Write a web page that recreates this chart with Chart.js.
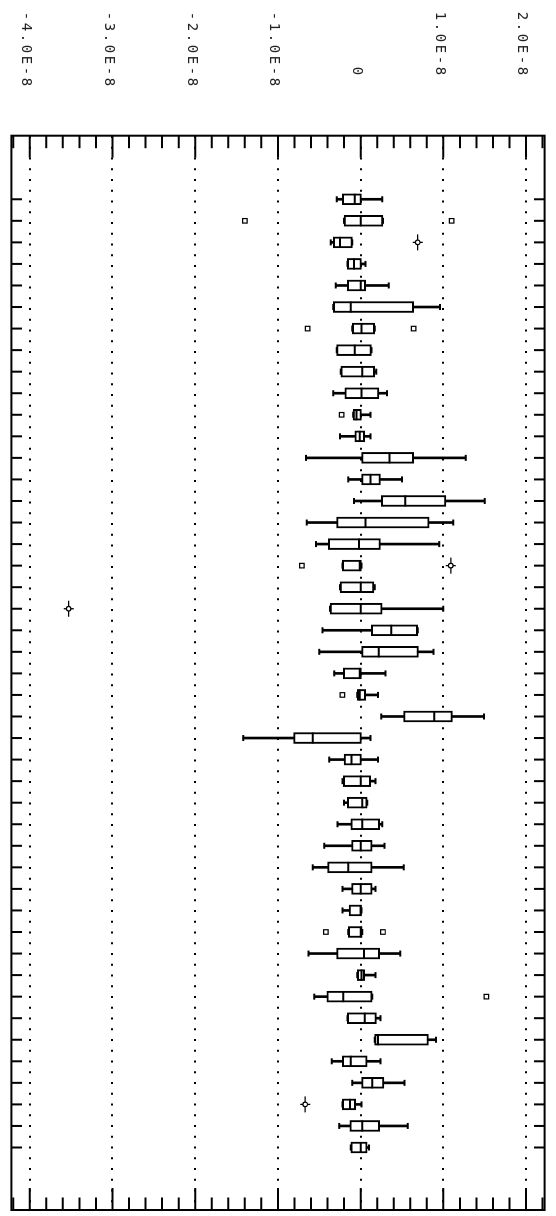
<!DOCTYPE html>
<html>
<head>
<meta charset="utf-8">
<script src="https://cdn.jsdelivr.net/npm/chart.js@4.4.1/dist/chart.umd.min.js"></script>
<style>
  html, body { margin: 0; padding: 0; background: #fff; overflow: hidden; }
  body { width: 556px; height: 1216px; position: relative; }
  /* chart is laid out landscape, then turned a quarter clockwise like the plotter page */
  #wrap { position: absolute; left: 0; top: 0; width: 1216px; height: 556px;
          transform-origin: 0 0; transform: translate(556px, 0) rotate(90deg); }
  #box-chart { display: block; }
</style>
</head>
<body>
<div id="wrap"><canvas id="box-chart" width="1216" height="556"></canvas></div>
<script>
// Values are in units of 1E-8
const positions = [1, 2, 3, 4, 5, 6, 7, 8, 9, 10, 11, 12, 13, 14, 15, 16, 17, 18, 19, 20, 21, 22, 23,
  24, 25, 26, 27, 28, 29, 30, 31, 32, 33, 34, 35, 36, 37, 38, 39, 40, 41, 42, 43, 44, 45];

const whiskerLow = [-0.29, -0.20, -0.36, -0.16, -0.30, -0.33, -0.10, -0.29, -0.24, -0.33, -0.09, -0.25,
  -0.66, -0.15, -0.08, -0.65, -0.54, -0.22, -0.25, -0.37, -0.46, -0.50, -0.32, -0.04, 0.25, -1.42,
  -0.38, -0.22, -0.20, -0.28, -0.44, -0.58, -0.22, -0.22, -0.15, -0.63, -0.04, -0.56, -0.16, 0.17,
  -0.35, -0.10, -0.22, -0.26, -0.12];
const boxLow = [-0.22, -0.20, -0.33, -0.16, -0.16, -0.33, -0.10, -0.29, -0.24, -0.19, -0.09, -0.07,
  0.00, 0.00, 0.25, -0.29, -0.39, -0.22, -0.25, -0.37, 0.13, 0.00, -0.21, -0.04, 0.52, -0.81,
  -0.20, -0.21, -0.16, -0.12, -0.11, -0.40, -0.11, -0.14, -0.15, -0.29, -0.04, -0.41, -0.16, 0.17,
  -0.22, 0.00, -0.22, -0.13, -0.12];
const medians = [-0.07, 0.00, -0.25, -0.08, 0.00, -0.12, 0.01, -0.07, 0.02, 0.01, -0.05, -0.01,
  0.35, 0.12, 0.54, 0.06, -0.02, -0.01, 0.00, 0.00, 0.37, 0.22, -0.01, -0.01, 0.89, -0.58,
  -0.11, 0.00, 0.02, 0.02, 0.00, -0.15, 0.00, 0.00, 0.00, 0.04, 0.01, -0.21, 0.05, 0.21,
  -0.12, 0.14, -0.13, 0.02, 0.00];
const boxHigh = [0.01, 0.27, -0.10, 0.01, 0.06, 0.64, 0.17, 0.13, 0.17, 0.22, 0.01, 0.05,
  0.64, 0.24, 1.03, 0.83, 0.24, 0.01, 0.16, 0.26, 0.69, 0.70, 0.01, 0.06, 1.11, 0.01,
  0.01, 0.12, 0.08, 0.23, 0.14, 0.14, 0.14, 0.01, 0.02, 0.23, 0.05, 0.14, 0.19, 0.82,
  0.08, 0.28, -0.06, 0.23, 0.08];
const whiskerHigh = [0.26, 0.27, -0.10, 0.06, 0.34, 0.96, 0.17, 0.13, 0.19, 0.32, 0.12, 0.12,
  1.27, 0.50, 1.50, 1.12, 0.95, 0.01, 0.17, 1.00, 0.69, 0.88, 0.30, 0.21, 1.49, 0.12,
  0.21, 0.18, 0.08, 0.26, 0.29, 0.52, 0.18, 0.01, 0.02, 0.48, 0.18, 0.14, 0.24, 0.91,
  0.24, 0.53, 0.01, 0.57, 0.10];

// outside values (small squares) and far-out values (crosses)
const outlierPos = [2, 2, 7, 7, 11, 18, 24, 35, 35, 38];
const outlierVals = [-1.40, 1.10, -0.64, 0.64, -0.23, -0.71, -0.22, -0.42, 0.27, 1.52];
const extremePos = [3, 18, 20, 43];
const extremeVals = [0.69, 1.09, -3.53, -0.67];

const valueTicks = [-4, -3, -2, -1, 0, 1, 2];

function toBars(lo, hi) {
  return positions.map((p, i) => ({ x: p, y: [lo[i], hi[i]] }));
}

function toPoints(xs, ys) {
  return xs.map((x, i) => ({ x: x, y: ys[i] }));
}

function pointSet(data, style, radius, order, extra) {
  return Object.assign({
    type: 'scatter',
    data: data,
    pointStyle: style,
    radius: radius,
    borderColor: '#000',
    backgroundColor: '#fff',
    borderWidth: 2,
    order: order
  }, extra || {});
}

/**
 * Frame with inward ticks on all four sides
 */
const frameTicks = {
  id: 'frameTicks',
  afterDatasetsDraw(chart) {
    const { ctx, chartArea: a, scales: { x, y } } = chart;
    ctx.save();
    ctx.strokeStyle = '#000';
    ctx.lineWidth = 2;
    ctx.beginPath();
    // minor ticks every 0.2, major every 1.0
    for (let k = -25; k <= 15; k++) {
      const py = y.getPixelForValue(k / 5);
      if (py < a.top || py > a.bottom) continue;
      const len = k % 5 === 0 ? 22 : 12.5;
      ctx.moveTo(a.left, py);
      ctx.lineTo(a.left + len, py);
      ctx.moveTo(a.right, py);
      ctx.lineTo(a.right - len, py);
    }
    positions.forEach(p => {
      const px = x.getPixelForValue(p);
      ctx.moveTo(px, a.top);
      ctx.lineTo(px, a.top + 10.5);
      ctx.moveTo(px, a.bottom);
      ctx.lineTo(px, a.bottom - 10.5);
    });
    ctx.stroke();
    ctx.strokeRect(a.left, a.top, a.right - a.left, a.bottom - a.top);
    ctx.restore();
  }
};

// plotter lettering is widely spaced
const spacedText = {
  id: 'spacedText',
  beforeDraw(chart) {
    chart.ctx.letterSpacing = '2.6px';
  }
};

function initChart() {
  const ctx = document.getElementById('box-chart');

  new Chart(ctx, {
    type: 'bar',
    data: {
      datasets: [
        {
          data: toBars(whiskerLow, whiskerHigh),
          backgroundColor: '#000',
          borderWidth: 0,
          barThickness: 2,
          grouped: false,
          order: 7
        },
        {
          data: toBars(boxLow, boxHigh),
          backgroundColor: '#fff',
          borderColor: '#000',
          borderWidth: 2,
          borderSkipped: false,
          barThickness: 11,
          grouped: false,
          order: 6
        },
        pointSet(toPoints(positions, whiskerLow), 'line', 3, 5),
        pointSet(toPoints(positions, whiskerHigh), 'line', 3, 5),
        pointSet(toPoints(positions, medians), 'line', 5.5, 4),
        pointSet(toPoints(outlierPos, outlierVals), 'rect', 3.2, 3, { borderWidth: 1.2 }),
        pointSet(toPoints(extremePos, extremeVals), 'line', 8, 2, { borderWidth: 1.3 }),
        pointSet(toPoints(extremePos, extremeVals), 'line', 5, 2, { borderWidth: 1.3, rotation: 90 }),
        pointSet(toPoints(extremePos, extremeVals), 'circle', 2.3, 1, { borderWidth: 1.2 })
      ]
    },
    options: {
      responsive: false,
      animation: false,
      events: [],
      layout: { autoPadding: false, padding: { left: 11.7, right: 6, top: 4.5, bottom: 1 } },
      plugins: {
        legend: { display: false },
        tooltip: { enabled: false }
      },
      scales: {
        x: {
          type: 'linear',
          display: false,
          offset: false,
          min: -1.95,
          max: 47.9
        },
        y: {
          type: 'linear',
          position: 'left',
          min: -4.222,
          max: 2.224,
          afterFit(scale) { scale.width = 124; },
          afterBuildTicks(scale) {
            scale.ticks = valueTicks.map(v => ({ value: v }));
          },
          ticks: {
            crossAlign: 'far',
            labelOffset: 4,
            color: '#222',
            font: { family: "'DejaVu Sans Mono', monospace", size: 14 },
            callback: v => (v === 0 ? '     0' : v.toFixed(1) + 'E-8')
          },
          grid: {
            color: '#000',
            lineWidth: 2,
            drawTicks: false
          },
          border: { display: false, dash: [2, 8.75] }
        }
      }
    },
    plugins: [frameTicks, spacedText]
  });
}

initChart();
</script>
</body>
</html>
